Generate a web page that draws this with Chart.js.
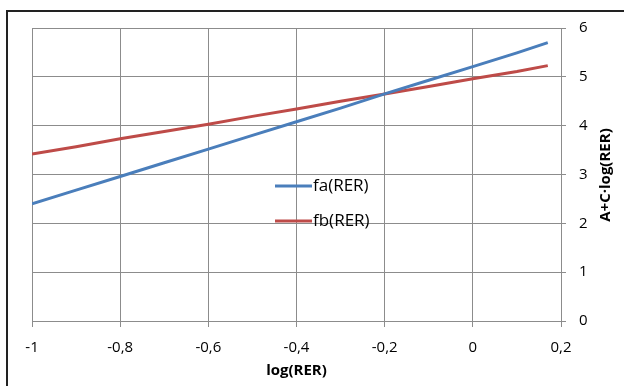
<!DOCTYPE html>
<html>
<head>
<meta charset="utf-8">
<script src="https://cdn.jsdelivr.net/npm/chart.js@4.4.0/dist/chart.umd.min.js"></script>
<style>
  html, body { margin: 0; padding: 0; background: #fff; overflow: hidden; }
  #wrap { position: relative; width: 624px; height: 386px; }
  #frame { position: absolute; left: 6px; top: 10px; width: 640px; height: 400px;
           border: 2px solid #222; pointer-events: none; }
  canvas { position: absolute; left: 0; top: 0; }
</style>
</head>
<body>
<div id="wrap">
  <canvas id="chart" width="624" height="386"></canvas>
  <div id="frame"></div>
</div>
<script>
// valores
var xValues = [-1, -0.9, -0.8, -0.7, -0.6, -0.5, -0.4, -0.3, -0.2, -0.1, 0, 0.1, 0.17]
var faValues = [2.40, 2.68, 2.96, 3.24, 3.52, 3.80, 4.08, 4.36, 4.65, 4.93, 5.21, 5.49, 5.70]
var fbValues = [3.42, 3.57, 3.73, 3.88, 4.03, 4.19, 4.34, 4.50, 4.65, 4.80, 4.96, 5.11, 5.23]
var seriesNames = ["fa(RER)", "fb(RER)"]
var xTitle = "log(RER)"
var yTitle = "A+C·log(RER)"

var FONT = "'Open Sans', sans-serif"
var GRID = "#8c8c8c"

function toPoints(ys){
    return xValues.map(function(x, i){ return {x: x, y: ys[i]} })
}

function fmt(v){
    var r = Math.round(v * 10) / 10
    return String(r).replace(".", ",")
}

// leyenda dentro del área del gráfico + título del eje y (de abajo hacia arriba)
var extras = {
    id: "extras",
    afterDraw: function(chart){
        var ctx = chart.ctx
        var rows = [186, 221]
        ctx.save()
        ctx.font = "17px " + FONT
        ctx.textBaseline = "middle"
        chart.data.datasets.forEach(function(ds, i){
            var y = rows[i]
            ctx.strokeStyle = ds.borderColor
            ctx.lineWidth = 3
            ctx.beginPath()
            ctx.moveTo(275, y)
            ctx.lineTo(312, y)
            ctx.stroke()
            ctx.fillStyle = "#000"
            ctx.fillText(ds.label, 313, y)
        })
        ctx.restore()

        ctx.save()
        ctx.translate(606, 175)
        ctx.rotate(-Math.PI / 2)
        ctx.font = "bold 15px " + FONT
        ctx.fillStyle = "#000"
        ctx.textAlign = "center"
        ctx.textBaseline = "middle"
        ctx.fillText(yTitle, 0, 0)
        ctx.restore()
    }
}

var ctx = document.getElementById("chart").getContext("2d")
new Chart(ctx, {
    type: "scatter",
    data: {
        datasets: [{
            label: seriesNames[0],
            data: toPoints(faValues),
            showLine: true,
            borderColor: "#4a7ebb",
            borderWidth: 3,
            pointRadius: 0
        }, {
            label: seriesNames[1],
            data: toPoints(fbValues),
            showLine: true,
            borderColor: "#be4b48",
            borderWidth: 3,
            pointRadius: 0
        }]
    },
    options: {
        responsive: false,
        animation: false,
        layout: { padding: { left: 32, top: 28, right: 0, bottom: 6 } },
        plugins: {
            legend: { display: false },
            tooltip: { enabled: false }
        },
        scales: {
            x: {
                type: "linear",
                min: -1,
                max: 0.2,
                ticks: {
                    stepSize: 0.2,
                    color: "#000",
                    font: { family: FONT, size: 15 },
                    padding: 12,
                    maxRotation: 0,
                    callback: function(v){ return fmt(v) }
                },
                grid: { color: GRID, lineWidth: 1, tickLength: 6, tickColor: GRID },
                border: { display: false },
                title: {
                    display: true,
                    text: xTitle,
                    color: "#000",
                    font: { family: FONT, size: 15, weight: "bold" },
                    padding: { top: 0, bottom: 0 }
                },
                afterFit: function(scale){ scale.height = 59 }
            },
            y: {
                position: "right",
                min: 0,
                max: 6,
                ticks: {
                    stepSize: 1,
                    color: "#000",
                    font: { family: FONT, size: 15 },
                    padding: 13,
                    callback: function(v){ return fmt(v) }
                },
                grid: { color: GRID, lineWidth: 1, tickLength: 5, tickColor: GRID },
                border: { display: false },
                afterFit: function(scale){ scale.width = 63 }
            }
        }
    },
    plugins: [extras]
})
</script>
</body>
</html>
